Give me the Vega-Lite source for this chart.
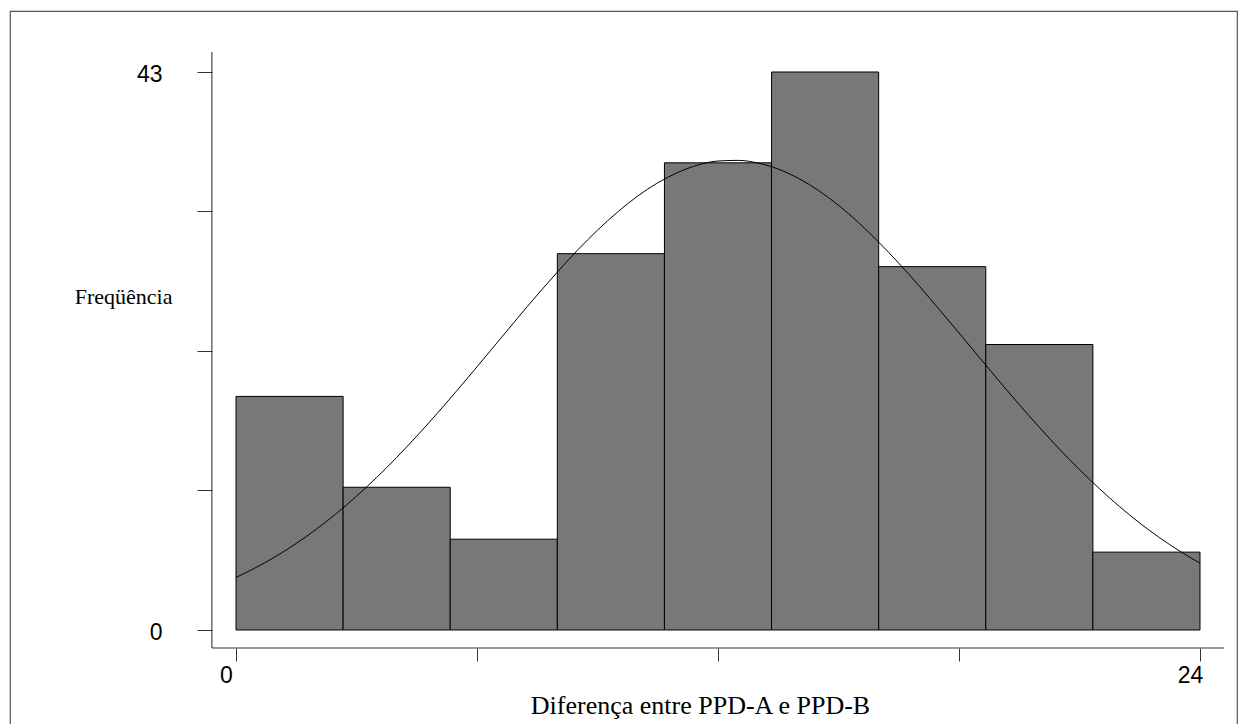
{
  "$schema": "https://vega.github.io/schema/vega-lite/v6.json",
  "autosize": "none",
  "padding": {"left": 10, "top": 11, "right": 8, "bottom": 0},
  "width": 1227,
  "height": 714,
  "background": "white",
  "config": {
    "view": {"stroke": "#555555", "strokeWidth": 1.2},
    "axis": {"grid": false, "domain": false}
  },
  "datasets": {
    "bins": [
      {"start": 0, "end": 2.6667, "count": 18},
      {"start": 2.6667, "end": 5.3333, "count": 11},
      {"start": 5.3333, "end": 8, "count": 7},
      {"start": 8, "end": 10.6667, "count": 29},
      {"start": 10.6667, "end": 13.3333, "count": 36},
      {"start": 13.3333, "end": 16, "count": 43},
      {"start": 16, "end": 18.6667, "count": 28},
      {"start": 18.6667, "end": 21.3333, "count": 22},
      {"start": 21.3333, "end": 24, "count": 6}
    ],
    "curve": [
      {"x": 0, "y": 4.05}, {"x": 0.5, "y": 4.82}, {"x": 1, "y": 5.69}, {"x": 1.5, "y": 6.67},
      {"x": 2, "y": 7.77}, {"x": 2.5, "y": 8.98}, {"x": 3, "y": 10.31}, {"x": 3.5, "y": 11.75},
      {"x": 4, "y": 13.30}, {"x": 4.5, "y": 14.94}, {"x": 5, "y": 16.66}, {"x": 5.5, "y": 18.45},
      {"x": 6, "y": 20.28}, {"x": 6.5, "y": 22.14}, {"x": 7, "y": 24.00}, {"x": 7.5, "y": 25.82},
      {"x": 8, "y": 27.58}, {"x": 8.5, "y": 29.26}, {"x": 9, "y": 30.81}, {"x": 9.5, "y": 32.21},
      {"x": 10, "y": 33.44}, {"x": 10.5, "y": 34.46}, {"x": 11, "y": 35.26}, {"x": 11.5, "y": 35.83},
      {"x": 12, "y": 36.14}, {"x": 12.5, "y": 36.19}, {"x": 13, "y": 35.98}, {"x": 13.5, "y": 35.52},
      {"x": 14, "y": 34.81}, {"x": 14.5, "y": 33.87}, {"x": 15, "y": 32.73}, {"x": 15.5, "y": 31.39},
      {"x": 16, "y": 29.89}, {"x": 16.5, "y": 28.27}, {"x": 17, "y": 26.54}, {"x": 17.5, "y": 24.73},
      {"x": 18, "y": 22.89}, {"x": 18.5, "y": 21.03}, {"x": 19, "y": 19.18}, {"x": 19.5, "y": 17.37},
      {"x": 20, "y": 15.62}, {"x": 20.5, "y": 13.94}, {"x": 21, "y": 12.36}, {"x": 21.5, "y": 10.88},
      {"x": 22, "y": 9.50}, {"x": 22.5, "y": 8.24}, {"x": 23, "y": 7.10}, {"x": 23.5, "y": 6.07},
      {"x": 24, "y": 5.15}
    ]
  },
  "layer": [
    {
      "data": {"name": "bins"},
      "mark": {"type": "rect", "fill": "#787878", "stroke": "#000000", "strokeWidth": 1},
      "encoding": {
        "x": {
          "field": "start", "type": "quantitative",
          "scale": {"domain": [-5.6266, 24.921], "nice": false, "zero": false},
          "axis": {
            "orient": "bottom",
            "offset": -77,
            "values": [0, 6, 12, 18, 24],
            "tickSize": 13,
            "tickColor": "#333333",
            "tickWidth": 1,
            "labelExpr": "datum.value == 0 || datum.value == 24 ? datum.label : ''",
            "labelFont": "Liberation Sans",
            "labelFontSize": 23,
            "labelColor": "#000000",
            "labelPadding": 3,
            "labelOffset": -10,
            "title": "Diferença entre PPD-A e PPD-B",
            "titleFont": "Liberation Serif",
            "titleFontSize": 26,
            "titleFontWeight": "normal",
            "titleColor": "#000000",
            "titleX": 690,
            "titleY": 65,
            "titleAlign": "center",
            "titleBaseline": "alphabetic"
          }
        },
        "x2": {"field": "end"},
        "y": {
          "field": "count", "type": "quantitative",
          "scale": {"domain": [-7.3208, 47.7007], "nice": false, "zero": false},
          "axis": {
            "orient": "left",
            "offset": -202,
            "values": [0, 10.75, 21.5, 32.25, 43],
            "tickSize": 15,
            "tickColor": "#333333",
            "tickWidth": 1,
            "labelExpr": "datum.value == 0 || datum.value == 43 ? datum.label : ''",
            "labelFont": "Liberation Sans",
            "labelFontSize": 23,
            "labelColor": "#000000",
            "labelPadding": 35,
            "labelOffset": 3,
            "title": "Freqüência",
            "titleFont": "Liberation Serif",
            "titleFontSize": 22,
            "titleFontWeight": "normal",
            "titleColor": "#000000",
            "titleAngle": 0,
            "titleX": -40,
            "titleY": 285,
            "titleAlign": "right",
            "titleBaseline": "middle"
          }
        },
        "y2": {"datum": 0}
      }
    },
    {
      "data": {"name": "curve"},
      "mark": {"type": "line", "color": "#000000", "strokeWidth": 1, "interpolate": "monotone"},
      "encoding": {
        "x": {"field": "x", "type": "quantitative"},
        "y": {"field": "y", "type": "quantitative"}
      }
    },
    {
      "data": {"values": [{}]},
      "mark": {"type": "rule", "color": "#222222", "strokeWidth": 1},
      "encoding": {
        "x": {"datum": -0.6, "type": "quantitative"},
        "y": {"datum": -1.387, "type": "quantitative"},
        "y2": {"datum": 44.54}
      }
    },
    {
      "data": {"values": [{}]},
      "mark": {"type": "rule", "color": "#333333", "strokeWidth": 1},
      "encoding": {
        "y": {"datum": -1.387, "type": "quantitative"},
        "x": {"datum": -0.6, "type": "quantitative"},
        "x2": {"datum": 24.6}
      }
    }
  ]
}
